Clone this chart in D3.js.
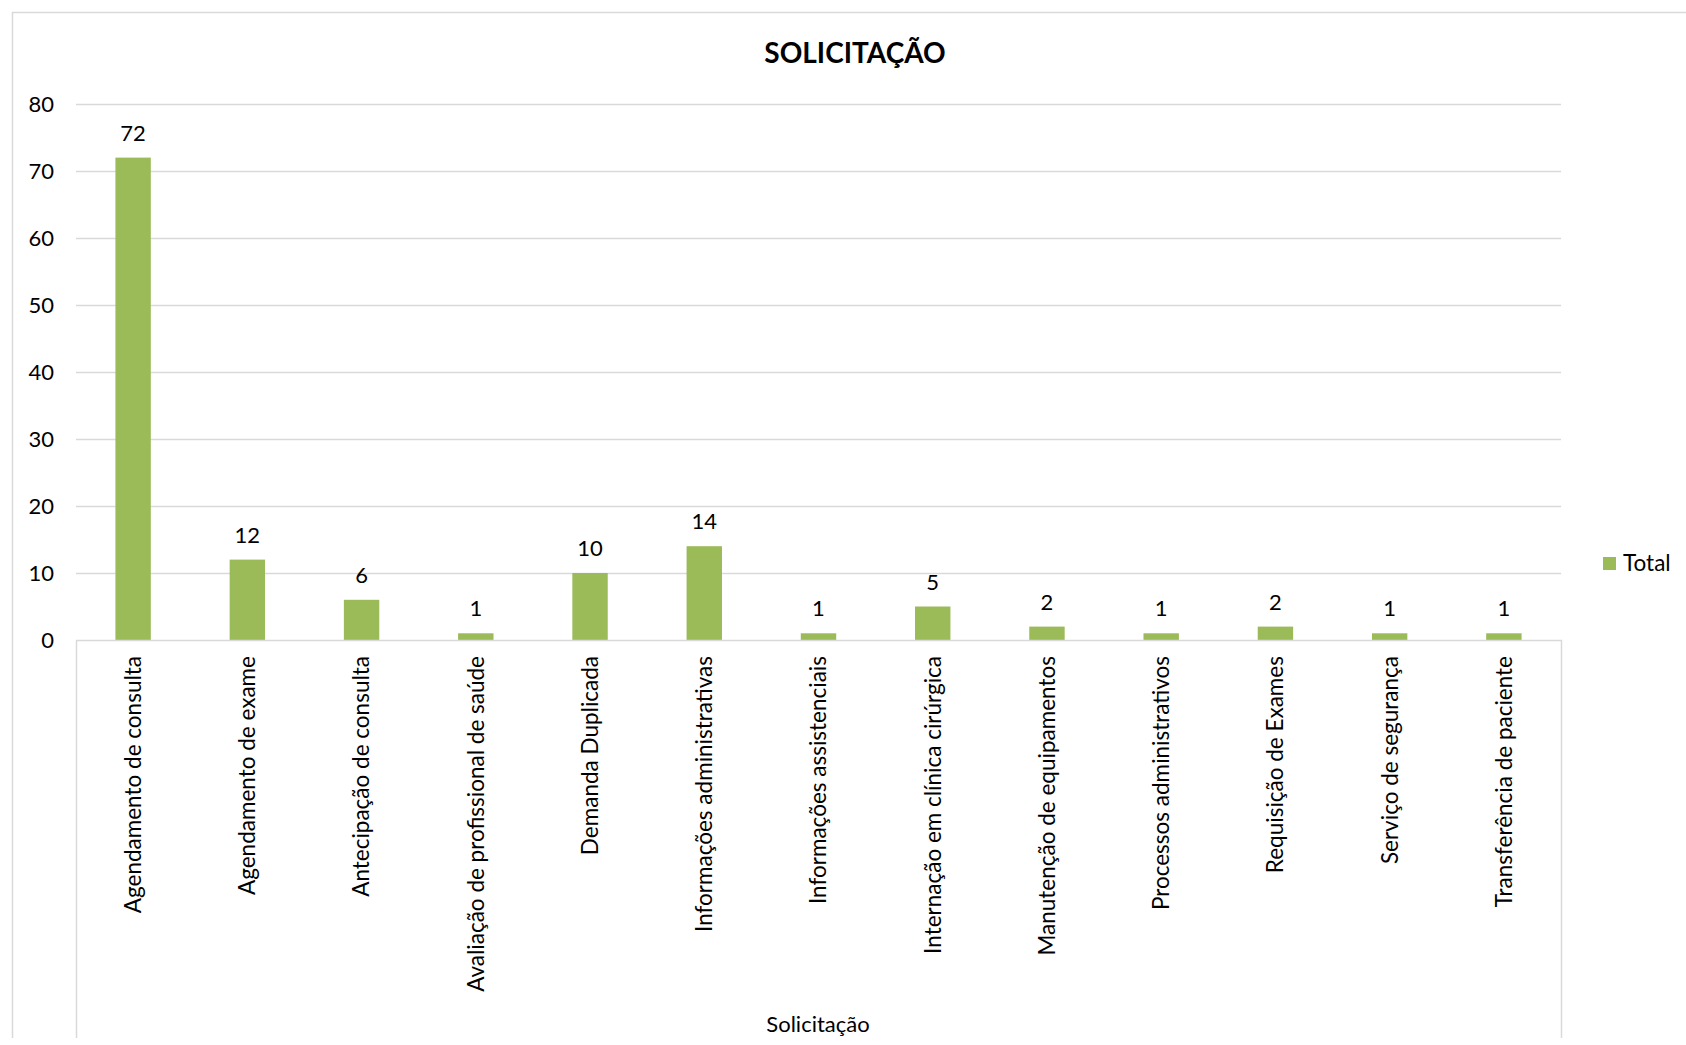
<!DOCTYPE html>
<html>
<head>
<meta charset="utf-8">
<script src="https://cdn.jsdelivr.net/npm/d3@7"></script>
<style>
  html, body { margin: 0; padding: 0; background: #fff; overflow: hidden; }
  svg { display: block; font-family: Lato, "Open Sans", sans-serif; }
  .grid line { stroke: #d9d9d9; }
  .axis text { fill: #000; }
</style>
</head>
<body>
<svg width="1686" height="1045"></svg>
<script>
const categories = [
  'Agendamento de consulta',
  'Agendamento de exame',
  'Antecipação de consulta',
  'Avaliação de profissional de saúde',
  'Demanda Duplicada',
  'Informações administrativas',
  'Informações assistenciais',
  'Internação em clínica cirúrgica',
  'Manutenção de equipamentos',
  'Processos administrativos',
  'Requisição de Exames',
  'Serviço de segurança',
  'Transferência de paciente'
];
const totals = [72, 12, 6, 1, 10, 14, 1, 5, 2, 1, 2, 1, 1];
const yTicks = [0, 10, 20, 30, 40, 50, 60, 70, 80];

const plotLeft = 76, plotRight = 1561, plotTop = 104, plotBottom = 640, frameBottom = 1038;
const svg = d3.select('svg');

// outer chart frame (runs off the right edge)
svg.append('path')
    .attr('d', `M12.5,${frameBottom} V12.5 H1700`)
    .attr('fill', 'none')
    .attr('stroke', '#d9d9d9')
    .attr('stroke-width', 1.5);

svg.append('text')
    .attr('x', 855)
    .attr('y', 63)
    .attr('text-anchor', 'middle')
    .attr('font-size', 28)
    .attr('font-weight', 'bold')
    .text('SOLICITAÇÃO');

const x = d3.scaleBand()
    .domain(categories)
    .range([plotLeft, plotRight])
    .paddingInner(0.69)
    .paddingOuter(0.345);

const y = d3.scaleLinear()
    .domain([0, 80])
    .range([plotBottom, plotTop]);

// gridlines
svg.append('g')
    .attr('class', 'grid')
    .selectAll('line').data(yTicks.filter(d => d > 0))
    .enter().append('line')
    .attr('x1', plotLeft).attr('x2', plotRight)
    .attr('y1', d => Math.round(y(d)) + 0.5)
    .attr('y2', d => Math.round(y(d)) + 0.5)
    .attr('stroke-width', 1.5);

// y axis labels
const yAxis = svg.append('g')
    .attr('class', 'axis')
    .attr('transform', `translate(${plotLeft}, 0)`)
    .call(d3.axisLeft(y).tickValues(yTicks).tickSize(0).tickPadding(22));
yAxis.select('.domain').remove();
yAxis.selectAll('text').attr('font-size', 22).attr('font-family', 'Lato, sans-serif');

// bars
svg.append('g').selectAll('rect').data(totals)
    .enter().append('rect')
    .attr('x', (d, i) => x(categories[i]))
    .attr('y', d => y(d))
    .attr('width', x.bandwidth())
    .attr('height', d => plotBottom - y(d))
    .attr('fill', '#9bbb59');

// value labels
svg.append('g').selectAll('text').data(totals)
    .enter().append('text')
    .attr('x', (d, i) => x(categories[i]) + x.bandwidth() / 2)
    .attr('y', d => y(d) - 17)
    .attr('text-anchor', 'middle')
    .attr('font-size', 22)
    .text(d => d);

// category axis box
svg.append('path')
    .attr('d', `M${plotLeft + 0.5},${frameBottom} V${plotBottom + 0.5} H${plotRight + 0.5} V${frameBottom}`)
    .attr('fill', 'none')
    .attr('stroke', '#d9d9d9')
    .attr('stroke-width', 1.5);

const xAxis = svg.append('g')
    .attr('class', 'axis')
    .attr('transform', `translate(0, ${plotBottom})`)
    .call(d3.axisBottom(x).tickSize(0));
xAxis.select('.domain').remove();
xAxis.selectAll('text')
    .attr('font-size', 22.5)
    .attr('font-family', 'Lato, sans-serif')
    .attr('text-anchor', 'end')
    .attr('transform', 'rotate(-90)')
    .attr('x', -16)
    .attr('y', 0)
    .attr('dy', '0.35em');

svg.append('text')
    .attr('x', 818)
    .attr('y', 1032)
    .attr('text-anchor', 'middle')
    .attr('font-size', 22)
    .text('Solicitação');

// legend
const legend = svg.append('g').attr('transform', 'translate(1603, 557)');
legend.append('rect')
    .attr('width', 13).attr('height', 13)
    .attr('fill', '#9bbb59');
legend.append('text')
    .attr('x', 20)
    .attr('y', 14)
    .attr('font-size', 22.5)
    .text('Total');
</script>
</body>
</html>
